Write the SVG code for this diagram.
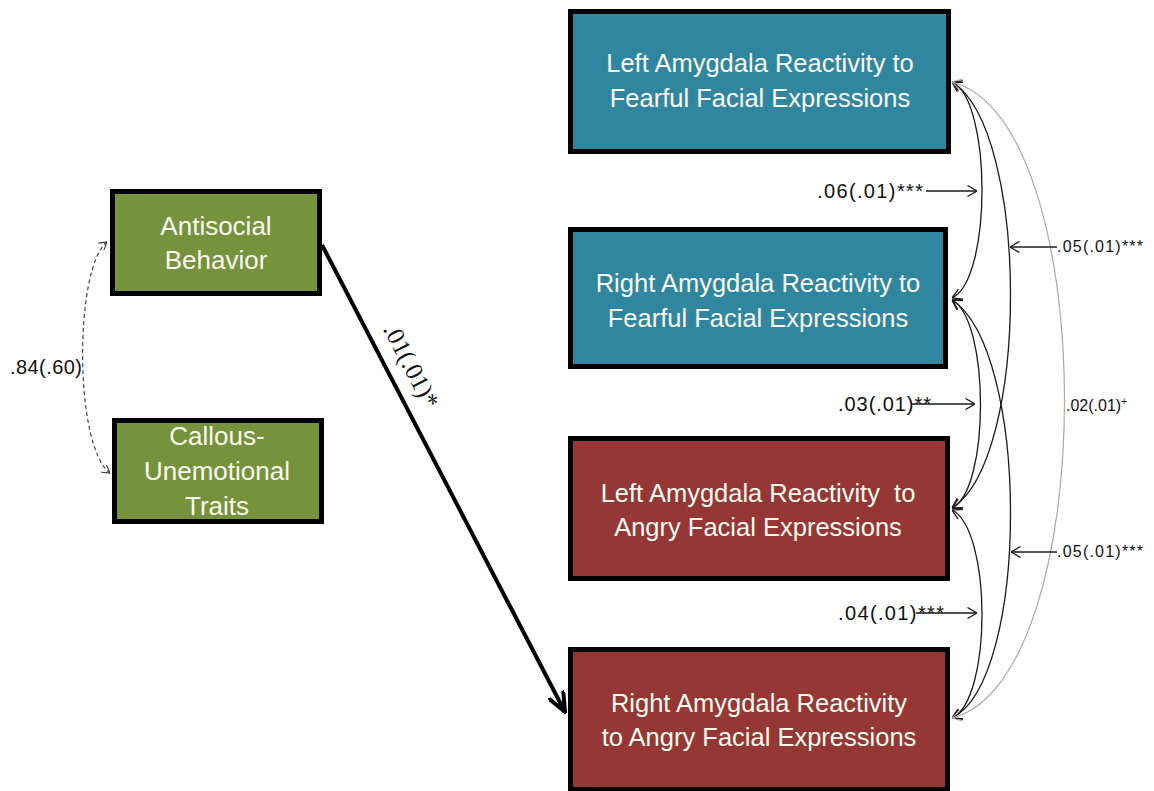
<svg xmlns="http://www.w3.org/2000/svg" width="1154" height="791" viewBox="0 0 1154 791">
<defs>
<style>
.box{stroke:#000;stroke-width:5}
.blue{fill:#31869F}
.red{fill:#953735}
.green{fill:#76923C}
.bt{font-family:"Liberation Sans",Arial,sans-serif;font-size:25.5px;fill:#FAFAF0;text-anchor:middle}
.gt{font-family:"Liberation Sans",Arial,sans-serif;font-size:26px;fill:#FAFAF0;text-anchor:middle}
.lab{font-family:"Liberation Sans",Arial,sans-serif;font-size:20px;fill:#111}
.labs{font-family:"Liberation Sans",Arial,sans-serif;font-size:16px;fill:#111}
.cv{fill:none;stroke:#1a1a1a;stroke-width:1.3}
.gr{fill:none;stroke:#a8a8a8;stroke-width:1.2}
</style>
<marker id="ah" viewBox="0 0 10 12" refX="10" refY="6" markerWidth="10" markerHeight="12" orient="auto-start-reverse" markerUnits="userSpaceOnUse"><path d="M0.5,0.5 L10,6 L0.5,11.5" fill="none" stroke="#1a1a1a" stroke-width="1.3"/></marker>
<marker id="ahg" viewBox="0 0 10 12" refX="10" refY="6" markerWidth="10" markerHeight="12" orient="auto-start-reverse" markerUnits="userSpaceOnUse"><path d="M0.5,0.5 L10,6 L0.5,11.5" fill="none" stroke="#a8a8a8" stroke-width="1.2"/></marker>
<marker id="ahd" viewBox="0 0 8 10" refX="8" refY="5" markerWidth="8" markerHeight="10" orient="auto-start-reverse" markerUnits="userSpaceOnUse"><path d="M0.5,0.5 L8,5 L0.5,9.5" fill="none" stroke="#333" stroke-width="1.1"/></marker>
<marker id="ahb" viewBox="0 0 22 18" refX="20" refY="9" markerWidth="22" markerHeight="18" orient="auto" markerUnits="userSpaceOnUse"><path d="M1,1 L20,9 L1,17" fill="none" stroke="#000" stroke-width="4" stroke-linecap="round"/></marker>
</defs>
<rect width="1154" height="791" fill="#fff"/>

<g id="connectors">
<path class="cv" d="M952,82 C992,100 992,280 952,298" marker-start="url(#ah)" marker-end="url(#ah)"/>
<path class="cv" d="M952,300 C990,320 990,490 952,508" marker-start="url(#ah)" marker-end="url(#ah)"/>
<path class="cv" d="M952,510 C992,530 992,700 952,718" marker-start="url(#ah)" marker-end="url(#ah)"/>
<path class="cv" d="M952,82 C1030,130 1030,460 952,508" marker-start="url(#ah)" marker-end="url(#ah)"/>
<path class="cv" d="M952,300 C1030,350 1030,680 952,718" marker-start="url(#ah)" marker-end="url(#ah)"/>
<path class="gr" d="M952,82 C1102,120 1102,680 952,718" marker-start="url(#ahg)" marker-end="url(#ahg)"/>
<line class="cv" x1="926" y1="191" x2="977" y2="191" marker-end="url(#ah)"/>
<line class="cv" x1="912" y1="404" x2="975" y2="404" marker-end="url(#ah)"/>
<line class="cv" x1="916" y1="613" x2="977" y2="613" marker-end="url(#ah)"/>
<line class="cv" x1="1057" y1="247" x2="1010" y2="247" marker-end="url(#ah)"/>
<line class="cv" x1="1057" y1="552" x2="1011" y2="552" marker-end="url(#ah)"/>
<path d="M107,242 C74,268 74,447 110,473" fill="none" stroke="#333" stroke-width="1.1" stroke-dasharray="4,3" marker-start="url(#ahd)" marker-end="url(#ahd)"/>
<line x1="322" y1="245" x2="565" y2="712" stroke="#000" stroke-width="4" marker-end="url(#ahb)"/>
<text class="lab" x="817" y="198" textLength="106">.06(.01)***</text>
<text class="lab" x="838" y="411" textLength="93">.03(.01)**</text>
<text class="lab" x="838" y="620" textLength="106">.04(.01)***</text>
<text class="labs" x="1057" y="252" textLength="86">.05(.01)***</text>
<text class="labs" x="1066" y="411">.02(.01)<tspan font-size="10" dy="-6">+</tspan></text>
<text class="labs" x="1057" y="557" textLength="86">.05(.01)***</text>
<text x="10" y="374" font-family="Liberation Sans,Arial,sans-serif" font-size="20" fill="#111" textLength="72">.84(.60)</text>
<text transform="translate(411,366) rotate(62.6)" x="0" y="8" text-anchor="middle" font-family="Liberation Serif,Times New Roman,serif" font-size="25" fill="#111">.01(.01)*</text>
</g>

<g id="left-fearful">
<rect class="box blue" x="570.5" y="11.5" width="378" height="140"/>
<text class="bt" x="760" y="72">Left Amygdala Reactivity to</text>
<text class="bt" x="760" y="107">Fearful Facial Expressions</text>
</g>
<g id="right-fearful">
<rect class="box blue" x="570.5" y="229.5" width="375" height="137"/>
<text class="bt" x="758" y="292">Right Amygdala Reactivity to</text>
<text class="bt" x="758" y="327">Fearful Facial Expressions</text>
</g>
<g id="left-angry">
<rect class="box red" x="570.5" y="438.5" width="377" height="140"/>
<text class="bt" x="758" y="502" xml:space="preserve">Left Amygdala Reactivity  to</text>
<text class="bt" x="758" y="536">Angry Facial Expressions</text>
</g>
<g id="right-angry">
<rect class="box red" x="570.5" y="649.5" width="377" height="140"/>
<text class="bt" x="759" y="712">Right Amygdala Reactivity</text>
<text class="bt" x="759" y="746">to Angry Facial Expressions</text>
</g>
<g id="antisocial">
<rect class="box green" x="112.5" y="191.5" width="207" height="102"/>
<text class="gt" x="216" y="235">Antisocial</text>
<text class="gt" x="216" y="269">Behavior</text>
</g>
<g id="callous">
<rect class="box green" x="114.5" y="420.5" width="207" height="101"/>
<text class="gt" x="217" y="445">Callous-</text>
<text class="gt" x="217" y="480">Unemotional</text>
<text class="gt" x="217" y="515">Traits</text>
</g>
</svg>
